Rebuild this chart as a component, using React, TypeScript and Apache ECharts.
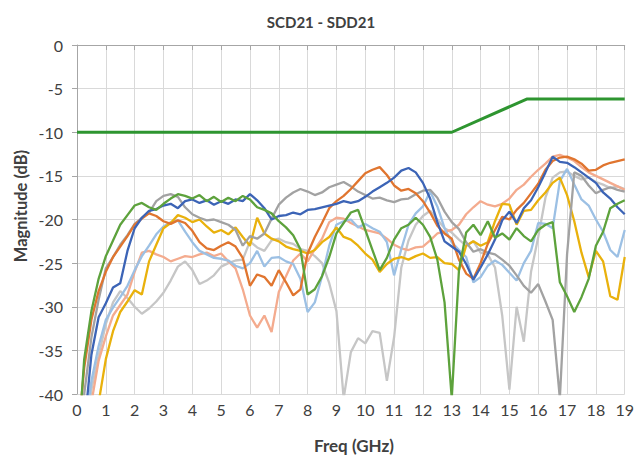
import React, { useEffect, useRef } from "react";
import * as echarts from "echarts";

// Frequency grid (GHz), 0 to 19 in 0.25 steps
const freq: number[] = Array.from({ length: 77 }, (_, i) => i * 0.25);

const xTicks = [0, 19, 1];
const yTicks = [-40, 0, 5];

const limitLine: [number, number][] = [[0, -10], [13, -10], [15.6, -6.2], [19, -6.2]];

const green = [
  -48, -36, -30.5, -26.8, -24.2, -22.4, -20.6, -19.5,
  -18.4, -18.1, -18.6, -18.9, -18.2, -17.6, -17.1, -17.3,
  -17.6, -17.2, -17.9, -17.4, -18.0, -17.5, -17.9, -17.3,
  -17.7, -18.6, -18.9, -19.3, -20.2, -20.9, -21.8, -23.4,
  -28.6, -28.0, -26.5, -24.3, -21.6, -20.4, -19.2, -18.9,
  -21.2, -23.5, -25.8, -24.4, -22.3, -21.0, -20.6, -19.8,
  -20.6, -22.0, -24.6, -29.5, -40.5, -25.8, -21.5, -20.6,
  -21.8, -20.2, -22.1, -21.6, -22.3, -21.0, -21.9, -22.5,
  -21.2, -20.6, -20.3, -27.2, -28.8, -30.6, -28.9, -26.8,
  -23.0, -21.4, -18.7, -18.2, -17.8,
];

const orange = [
  -46, -37, -31.5, -28.2, -26.0, -24.3, -23.1, -21.9,
  -20.6, -19.9, -19.3, -19.6, -20.2, -20.5, -20.1, -20.4,
  -21.3, -22.6, -23.3, -23.5, -23.0, -22.6, -23.1, -24.4,
  -27.6, -26.3, -26.6, -27.6, -25.8, -27.2, -28.7, -28.0,
  -23.9, -22.0, -20.4, -18.7, -17.9, -17.3, -16.5, -15.6,
  -14.7, -14.3, -14.0, -14.9, -16.1, -16.7, -16.5, -17.0,
  -17.9, -19.2, -20.7, -21.6, -22.2, -24.6, -26.2, -26.8,
  -25.0, -22.8, -21.2, -19.7, -20.0, -18.9, -18.1, -17.0,
  -15.9, -14.3, -13.3, -12.9, -12.8, -13.1, -13.6, -14.4,
  -14.3, -13.8, -13.5, -13.3, -13.1,
];

const blue = [
  -50, -44, -35.5, -31.2, -29.6, -27.8, -27.3, -23.6,
  -21.0, -19.8, -19.0, -18.8, -18.4, -18.2, -18.7, -17.9,
  -17.7, -18.1, -17.8, -18.3, -17.9, -18.2, -17.7, -17.9,
  -17.1, -17.8, -18.7, -20.0, -19.6, -19.5, -19.2, -19.4,
  -18.9, -18.8, -18.6, -18.4, -18.2, -17.9, -18.1, -17.9,
  -17.4, -16.8, -16.3, -15.8, -15.2, -14.4, -14.1, -14.6,
  -15.8, -17.6, -20.3, -22.5, -23.1, -23.7, -25.1, -26.9,
  -25.5, -24.0, -22.3, -20.1, -19.1, -20.4, -18.7, -17.8,
  -16.3, -14.6, -12.8, -13.4, -13.5, -14.0, -14.6, -15.2,
  -15.8, -16.9, -17.6, -18.6, -19.4,
];

const gray = [
  -48, -40, -33.5, -29.2, -25.6, -24.3, -22.9, -21.8,
  -20.5, -19.8, -19.2, -17.9, -17.3, -17.1, -17.4, -18.6,
  -19.4, -19.8, -20.1, -20.0, -20.3, -20.6, -21.2, -23.0,
  -21.9, -22.2, -21.6, -19.9, -18.3, -17.5, -16.9, -16.5,
  -16.8, -17.2, -16.9, -16.3, -16.0, -15.7, -16.2, -16.8,
  -17.2, -17.6, -17.5, -17.8, -18.0, -17.7, -17.6, -17.1,
  -16.7, -16.6, -17.5, -19.1, -20.3, -21.1, -22.6, -23.7,
  -23.4, -23.8, -24.0, -24.6, -25.3, -26.4, -27.6, -28.4,
  -27.4, -29.4, -31.5, -40.5, -24.0, -14.6, -15.0, -16.1,
  -17.0, -16.6, -16.3, -16.6, -16.8,
];

const gold = [
  -60, -55, -48, -41, -36.0, -32.8, -30.6, -29.4,
  -28.1, -28.6, -24.8, -22.9, -21.0, -20.4, -19.5, -19.8,
  -20.3, -20.0, -20.8, -21.5, -21.2, -21.7, -20.9, -22.0,
  -23.0, -19.8, -21.6, -22.2, -22.5, -23.1, -23.4, -23.6,
  -23.9, -23.5, -22.6, -22.0, -20.9, -22.0, -22.3, -23.0,
  -23.9, -24.6, -26.0, -25.1, -24.5, -24.3, -24.6, -24.2,
  -23.9, -24.4, -24.3, -25.0, -25.1, -25.8, -23.0, -22.5,
  -23.0, -22.6, -20.2, -18.2, -18.3, -20.6, -19.0, -18.9,
  -17.8, -16.9, -15.8, -15.2, -17.2, -20.2, -23.8, -26.6,
  -23.6, -24.8, -28.8, -29.2, -24.3,
];

const lightBlue = [
  -50, -45, -38.5, -34.5, -31.5, -30.1, -28.9, -27.6,
  -25.8, -24.2, -23.0, -21.7, -20.8, -20.3, -20.1, -21.4,
  -22.6, -23.6, -24.0, -24.4, -24.5, -24.7, -25.3, -25.6,
  -25.0, -23.6, -25.4, -24.4, -24.3, -24.8, -25.1, -26.8,
  -30.6, -29.5, -26.5, -23.0, -20.6, -20.2, -20.0, -20.9,
  -20.5, -21.0, -21.4, -22.6, -26.4, -23.4, -20.6, -19.3,
  -18.5, -16.8, -18.5, -21.0, -22.6, -23.5, -24.3, -27.2,
  -26.6, -25.3, -24.7, -25.2, -26.1, -27.0, -25.0, -23.6,
  -20.4, -20.5, -21.0, -15.6, -14.2, -16.0, -17.7, -18.4,
  -20.0, -21.4, -23.5, -24.3, -21.2,
];

const salmon = [
  -55, -48, -41, -36.2, -33.4, -31.0, -29.8, -28.6,
  -26.0, -23.8, -23.6, -24.0, -24.3, -24.8, -24.5, -24.2,
  -24.3, -24.0, -23.8, -24.2, -23.9, -24.8, -25.6, -28.0,
  -31.0, -32.4, -31.0, -32.9, -28.3, -26.5, -24.7, -23.9,
  -24.8, -23.4, -22.2, -20.3, -19.8, -19.9, -20.4, -20.8,
  -21.2, -21.4, -21.6, -22.2, -22.9, -23.3, -23.5, -23.2,
  -23.1, -22.4, -21.6, -21.4, -21.2, -20.6, -19.4, -18.6,
  -17.9, -18.3, -18.5, -18.2, -17.6, -16.6, -16.0, -15.1,
  -14.3, -13.6, -12.8, -12.6, -12.9, -13.3, -14.0, -14.6,
  -15.0, -15.4, -15.8, -16.2, -16.6,
];

const lightGray = [
  -52, -46, -39.5, -35.6, -32.0, -29.5, -28.2, -29.0,
  -30.0, -30.8, -30.2, -29.4, -28.4, -27.0, -25.4, -24.8,
  -25.8, -27.4, -27.0, -26.4, -25.4, -25.0, -24.7, -24.6,
  -22.5, -23.2, -23.6, -22.4, -22.2, -22.6, -22.8, -23.4,
  -23.6, -24.2, -25.0, -27.3, -30.5, -40.5, -35.2, -33.6,
  -34.2, -32.8, -33.0, -38.5, -33.5, -25.5, -22.4, -20.6,
  -19.6, -19.0, -20.0, -21.0, -21.5, -22.3, -23.0, -22.5,
  -23.8, -24.0, -25.5, -31.0, -39.5, -30.0, -34.0, -26.0,
  -22.0, -17.5, -15.2, -14.6, -14.5, -15.0, -15.4, -15.2,
  -15.7, -16.0, -16.4, -16.2, -16.5,
];

const seriesDefs: { name: string; values: number[]; color: string }[] = [
  { name: "lightGray", values: lightGray, color: "#C6C6C6" },
  { name: "salmon", values: salmon, color: "#F4AB8E" },
  { name: "lightBlue", values: lightBlue, color: "#9CC0E4" },
  { name: "gold", values: gold, color: "#E9B10C" },
  { name: "gray", values: gray, color: "#A2A2A2" },
  { name: "orange", values: orange, color: "#E0752F" },
  { name: "blue", values: blue, color: "#3C64B6" },
  { name: "green", values: green, color: "#5DA23C" },
];

const FONT = "Lato, 'Open Sans', sans-serif";

export default function App() {
  const ref = useRef<HTMLDivElement>(null);
  useEffect(() => {
    if (!ref.current) return;
    const chart = echarts.init(ref.current, undefined, { renderer: "svg" });
    const series: any[] = seriesDefs.map((s) => ({
      name: s.name,
      type: "line",
      data: freq.map((f, i) => [f, s.values[i]]),
      showSymbol: false,
      symbol: "none",
      clip: true,
      lineStyle: { width: 2.3, color: s.color },
      itemStyle: { color: s.color },
    }));
    series.push({
      name: "limit",
      type: "line",
      data: limitLine,
      showSymbol: false,
      symbol: "none",
      clip: true,
      lineStyle: { width: 3, color: "#2E9530" },
      z: 5,
    });
    chart.setOption({
      animation: false,
      backgroundColor: "#ffffff",
      grid: { left: 77, right: 11, top: 45, bottom: 63, containLabel: false },
      xAxis: {
        type: "value",
        min: xTicks[0],
        max: xTicks[1],
        interval: xTicks[2],
        axisLine: { show: true, lineStyle: { color: "#A6A6A6", width: 1 } },
        axisTick: { show: true, inside: false, length: 5, lineStyle: { color: "#A6A6A6" } },
        axisLabel: { fontSize: 16, color: "#404040", fontFamily: FONT, margin: 7 },
        splitLine: { show: true, lineStyle: { color: "#D9D9D9", width: 1 } },
      },
      yAxis: {
        type: "value",
        min: yTicks[0],
        max: yTicks[1],
        interval: yTicks[2],
        axisLine: { show: true, lineStyle: { color: "#A6A6A6", width: 1 } },
        axisTick: { show: true, inside: false, length: 5, lineStyle: { color: "#A6A6A6" } },
        axisLabel: { fontSize: 16, color: "#404040", fontFamily: FONT, margin: 14 },
        splitLine: { show: true, lineStyle: { color: "#D9D9D9", width: 1 } },
      },
      graphic: [
        {
          type: "text",
          x: 321,
          y: 22,
          style: {
            text: "SCD21 - SDD21",
            fontSize: 15,
            fontWeight: "bold",
            fontFamily: FONT,
            fill: "#404040",
            textAlign: "center",
            textVerticalAlign: "middle",
          },
        },
        {
          type: "text",
          x: 21,
          y: 206,
          rotation: Math.PI / 2,
          style: {
            text: "Magnitude (dB)",
            fontSize: 16.5,
            fontWeight: "bold",
            fontFamily: FONT,
            fill: "#404040",
            textAlign: "center",
            textVerticalAlign: "middle",
          },
        },
        {
          type: "text",
          x: 354,
          y: 445,
          style: {
            text: "Freq (GHz)",
            fontSize: 17,
            fontWeight: "bold",
            fontFamily: FONT,
            fill: "#404040",
            textAlign: "center",
            textVerticalAlign: "middle",
          },
        },
      ],
      series,
    });
    return () => chart.dispose();
  }, []);
  return (
    <div
      ref={ref}
      style={{ position: "fixed", left: 0, top: 0, width: 637, height: 457, background: "#fff" }}
    />
  );
}
